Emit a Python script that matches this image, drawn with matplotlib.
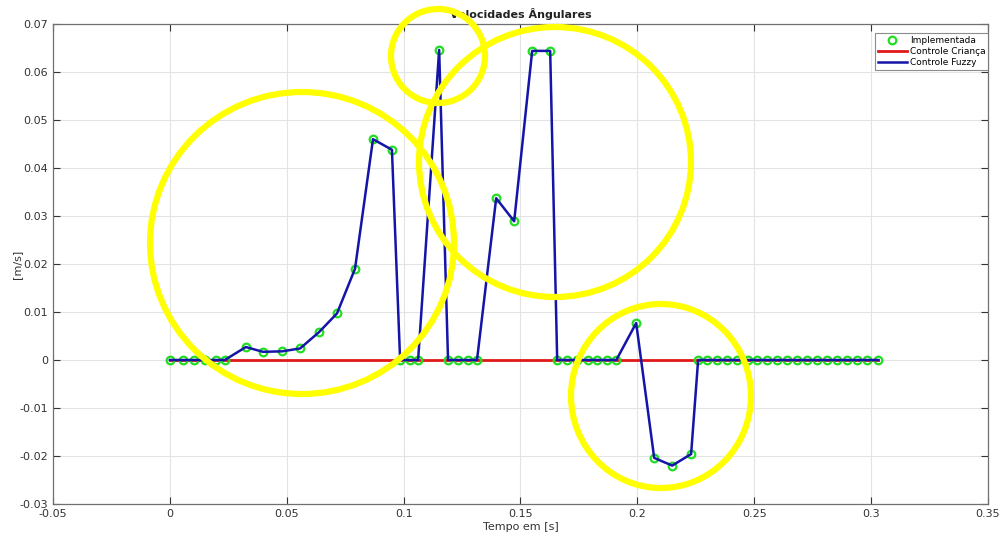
import numpy as np
import matplotlib
matplotlib.use("Agg")
import matplotlib.pyplot as plt
from matplotlib.patches import Ellipse

# tempo das amostras [s]
tempo = [0.0, 0.0056, 0.0103, 0.015, 0.0197, 0.0235, 0.0325, 0.0398, 0.048, 0.0557,
         0.0638, 0.0715, 0.0792, 0.0869, 0.095, 0.0985, 0.1027, 0.1062, 0.1152, 0.119,
         0.1233, 0.1276, 0.1314, 0.1396, 0.1473, 0.155, 0.1627, 0.1657, 0.170, 0.1742,
         0.179, 0.1828, 0.187, 0.191, 0.1995, 0.2072, 0.2149, 0.223, 0.226, 0.2299,
         0.2342, 0.2384, 0.2427, 0.2474, 0.2513, 0.2556, 0.2598, 0.2641, 0.2684, 0.2727,
         0.277, 0.2813, 0.2855, 0.2898, 0.2941, 0.2984, 0.3031]

# controle fuzzy [m/s]
fuzzy = [0, 0, 0, 0, 0, 0, 0.0027, 0.0017, 0.0018, 0.0024,
         0.0058, 0.0097, 0.019, 0.046, 0.0438, 0, 0, 0, 0.0646, 0,
         0, 0, 0, 0.0337, 0.0289, 0.0644, 0.0644, 0, 0, 0,
         0, 0, 0, 0, 0.0077, -0.0204, -0.022, -0.0196, 0, 0,
         0, 0, 0, 0, 0, 0, 0, 0, 0, 0,
         0, 0, 0, 0, 0, 0, 0]

implementada = list(fuzzy)
crianca = [0] * len(tempo)

xticks = [-0.05, 0, 0.05, 0.1, 0.15, 0.2, 0.25, 0.3, 0.35]
xtick_labels = ['-0.05', '0', '0.05', '0.1', '0.15', '0.2', '0.25', '0.3', '0.35']
yticks = [-0.03, -0.02, -0.01, 0, 0.01, 0.02, 0.03, 0.04, 0.05, 0.06, 0.07]
ytick_labels = ['-0.03', '-0.02', '-0.01', '0', '0.01', '0.02', '0.03', '0.04', '0.05', '0.06', '0.07']

fig = plt.figure(figsize=(10.02, 5.37), dpi=100)
ax = fig.add_axes([0.0529, 0.0615, 0.9331, 0.8938])

ax.plot(tempo, implementada, 'o', color='#22dd22', markerfacecolor='none',
        markersize=5.5, markeredgewidth=1.6, label='Implementada', zorder=3)
ax.plot(tempo, crianca, '-', color='#e01818', linewidth=2, label='Controle Criança', zorder=2)
ax.plot(tempo, fuzzy, '-', color='#1414a8', linewidth=1.8, label='Controle Fuzzy', zorder=4)

ax.set_xlim(-0.05, 0.35)
ax.set_ylim(-0.03, 0.07)
ax.set_xticks(xticks)
ax.set_xticklabels(xtick_labels)
ax.set_yticks(yticks)
ax.set_yticklabels(ytick_labels)
ax.tick_params(direction='in', top=True, right=True, labelsize=8, colors='#333333',
               length=5, width=0.8)
ax.grid(True, color='#e3e3e3', linewidth=0.8)
ax.set_axisbelow(True)
for s in ax.spines.values():
    s.set_color('#707070')
    s.set_linewidth(0.9)

ax.set_title('Velocidades Ângulares', fontsize=8, fontweight='bold', color='#222222', pad=4)
ax.set_xlabel('Tempo em [s]', fontsize=8, color='#333333', labelpad=2)
ax.set_ylabel('[m/s]', fontsize=8, color='#333333', labelpad=-2)

leg = ax.legend(loc='upper right', fontsize=6.5, frameon=True, fancybox=False,
                edgecolor='#707070', borderpad=0.3, handlelength=3.2, handletextpad=0.3,
                labelspacing=0.25, borderaxespad=0, bbox_to_anchor=(1.0, 0.981))
leg.get_frame().set_linewidth(0.8)

# destaques amarelos (cx, cy, rx, ry em pixels)
destaques = [(302, 243, 152, 151), (438, 56, 47, 47), (555, 162, 136, 135), (661, 396, 90, 92)]
W, H = 1002, 537
for cx, cy, rx, ry in destaques:
    e = Ellipse((cx / W, 1 - cy / H), 2 * rx / W, 2 * ry / H, transform=fig.transFigure,
                fill=False, edgecolor='#ffff00', linewidth=4.5, zorder=10)
    fig.add_artist(e)

fig.savefig('out.png', dpi=100, facecolor='white')
